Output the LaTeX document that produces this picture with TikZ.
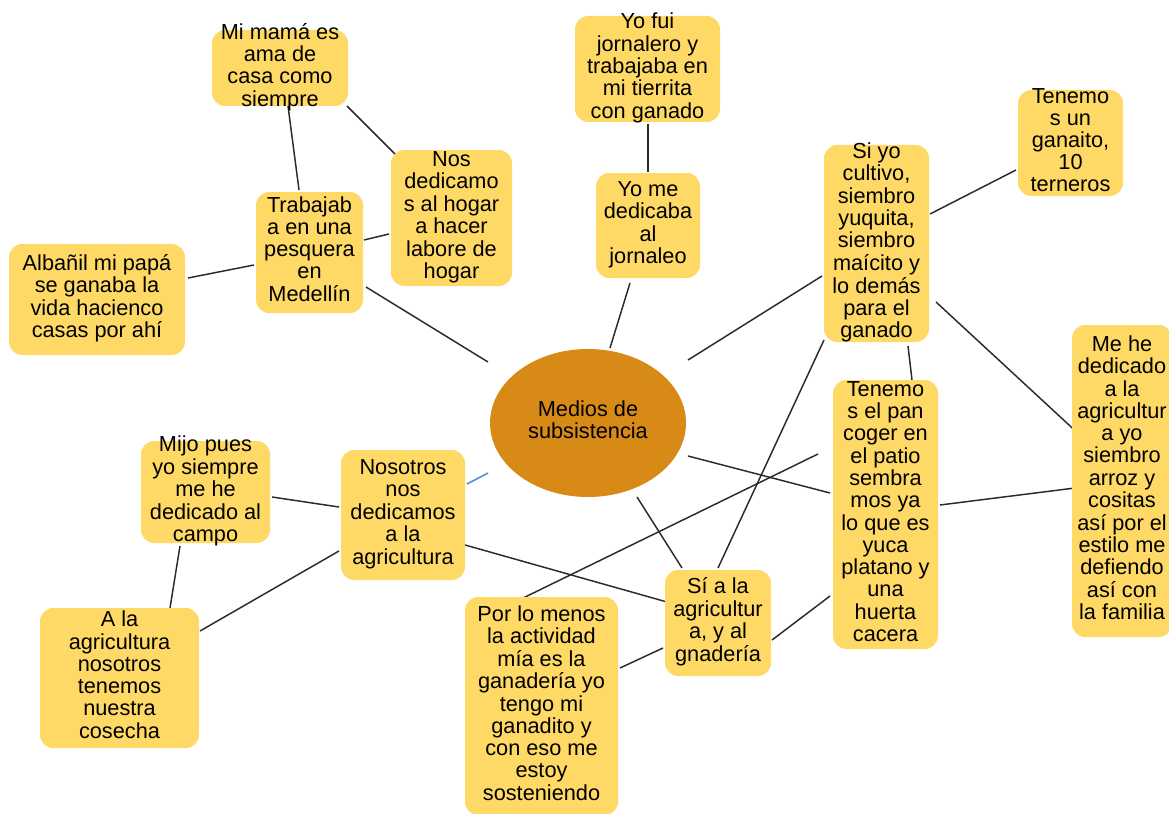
\documentclass[tikz,border=0pt]{standalone}
\usepackage{fontspec}
\setmainfont{Liberation Sans}
\usetikzlibrary{calc,shapes.geometric,backgrounds}
\definecolor{boxfill}{HTML}{FFD966}
\definecolor{medfill}{HTML}{D88A17}
\definecolor{linkgray}{HTML}{2A2A2A}
\definecolor{linkblue}{HTML}{5B8EC4}
% vertically centred multi-line text of zero height, so boxes keep their own size
\newcommand\ctext[1]{\vbox to 0pt{\vss\hbox{\begin{tabular}{@{}c@{}}#1\end{tabular}}\vss}}
% \card{name}{x}{y}{width}{height}{text}
\newcommand\card[6]{\node[card, minimum width=#4*0.75pt, minimum height=#5*0.75pt] (#1) at (#2,#3) {\ctext{#6}};}
\tikzset{
  card/.style={rectangle, rounded corners=10pt, fill=boxfill, inner sep=0pt,
    text=black, font=\fontsize{16.3pt}{16.6pt}\selectfont},
  medstyle/.style={ellipse, fill=medfill, inner sep=0pt,
    minimum width=196*0.75pt, minimum height=148*0.75pt,
    text=black, font=\fontsize{16.3pt}{16.6pt}\selectfont},
  link/.style={draw=linkgray, line width=1.1pt},
  bluelink/.style={draw=linkblue, line width=1.2pt},
}
\begin{document}
\begin{tikzpicture}[x=0.75pt,y=-0.75pt]
\useasboundingbox (0,0) rectangle (1169,813);
\clip (0,0) rectangle (1169,813);

% central topic
\node[medstyle] (med) at (588,423) {\ctext{Medios de\\subsistencia}};

% cards
\card{mama}{280}{68}{136}{76}{Mi mamá es\\ama de\\casa como\\siempre}
\card{nos}{451.5}{218}{121}{136}{Nos\\dedicamo\\s al hogar\\a hacer\\labore de\\hogar}
\card{trab}{309.5}{252.5}{107}{121}{Trabajab\\a en una\\pesquera\\en\\Medellín}
\card{alb}{97}{299.5}{176}{111}{Albañil mi papá\\se ganaba la\\vida hacienco\\casas por ahí}
\card{fui}{647.5}{69}{145}{106}{Yo fui\\jornalero y\\trabajaba en\\mi tierrita\\con ganado}
\card{yome}{648}{225.5}{104}{105}{Yo me\\dedicaba\\al\\jornaleo}
\card{siyo}{876.5}{243.5}{105}{197}{Si yo\\cultivo,\\siembro\\yuquita,\\siembro\\maícito y\\lo demás\\para el\\ganado}
\card{gan}{1070.5}{143}{105}{106}{Tenemo\\s un\\ganaito,\\10\\terneros}
\card{mehe}{1122}{481}{100}{312}{Me he\\dedicado\\a la\\agricultur\\a yo\\siembro\\arroz y\\cositas\\así por el\\estilo me\\defiendo\\así con\\la familia}
\card{pan}{885.5}{514.5}{105}{269}{Tenemo\\s el pan\\coger en\\el patio\\sembra\\mos ya\\lo que es\\yuca\\platano y\\una\\huerta\\cacera}
\card{mijo}{205.5}{492}{129}{102}{Mijo pues\\yo siempre\\me he\\dedicado al\\campo}
\card{noso}{403}{515}{124}{130}{Nosotros\\nos\\dedicamos\\a la\\agricultura}
\card{ala}{119.5}{678}{159}{140}{A la\\agricultura\\nosotros\\tenemos\\nuestra\\cosecha}
\card{porlo}{541.5}{706}{153}{218}{Por lo menos\\la actividad\\mía es la\\ganadería yo\\tengo mi\\ganadito y\\con eso me\\estoy\\sosteniendo}
\card{si}{718}{623}{106}{106}{Sí a la\\agricultur\\a, y al\\gnadería}

% connectors
\begin{scope}[on background layer]
\draw[link] ($(mama)+(8,38)$) -- ($(trab)+(-10.5,-62.5)$);
\draw[link] ($(mama)+(67,38)$) -- ($(nos)+(-47.5,-55)$);
\draw[link] ($(trab)+(54.5,-12.5)$) -- ($(nos)+(-62.5,16)$);
\draw[link] ($(alb)+(91,-21.5)$) -- ($(trab)+(-55.5,12.5)$);
\draw[link] ($(trab)+(56.5,34.5)$) -- ($(med)+(-100,-61)$);
\draw[link] ($(fui)+(0.5,55)$) -- ($(yome)+(0,-53.5)$);
\draw[link] ($(yome)+(-18,57.5)$) -- ($(med)+(22,-75)$);
\draw[link] ($(siyo)+(-54.5,32.5)$) -- ($(med)+(100,-63)$);
\draw[link] ($(siyo)+(53.5,-29.5)$) -- ($(gan)+(-54.5,27)$);
\draw[link] ($(siyo)+(59.5,58.5)$) -- ($(mehe)+(-40,-44)$);
\draw[link] ($(siyo)+(31.5,102.5)$) -- ($(pan)+(26.5,-134.5)$);
\draw[link] ($(siyo)+(-52.5,96.5)$) -- ($(si)+(0,-55)$);
\draw[link] ($(med)+(100,33)$) -- ($(pan)+(-55.5,-21.5)$);
\draw[link] ($(pan)+(54.5,-9.5)$) -- ($(mehe)+(-47,7)$);
\draw[link] ($(pan)+(-55.5,81.5)$) -- ($(si)+(54,17)$);
\draw[link] ($(med)+(49,74)$) -- ($(si)+(-36,-55)$);
\draw[link] ($(noso)+(55,28)$) -- ($(si)+(-51,-21)$);
\draw[link] ($(porlo)+(-22.5,-106)$) -- ($(pan)+(-67.5,-60.5)$);
\draw[link] ($(porlo)+(78.5,-38)$) -- ($(si)+(-55,25)$);
\draw[bluelink] ($(noso)+(64,-31)$) -- ($(med)+(-100,50)$);
\draw[link] ($(mijo)+(66.5,5)$) -- ($(noso)+(-64,-8)$);
\draw[link] ($(mijo)+(-25.5,54)$) -- ($(ala)+(50.5,-70)$);
\draw[link] ($(ala)+(80.5,-47)$) -- ($(noso)+(-64,36)$);
\end{scope}
\end{tikzpicture}
\end{document}
